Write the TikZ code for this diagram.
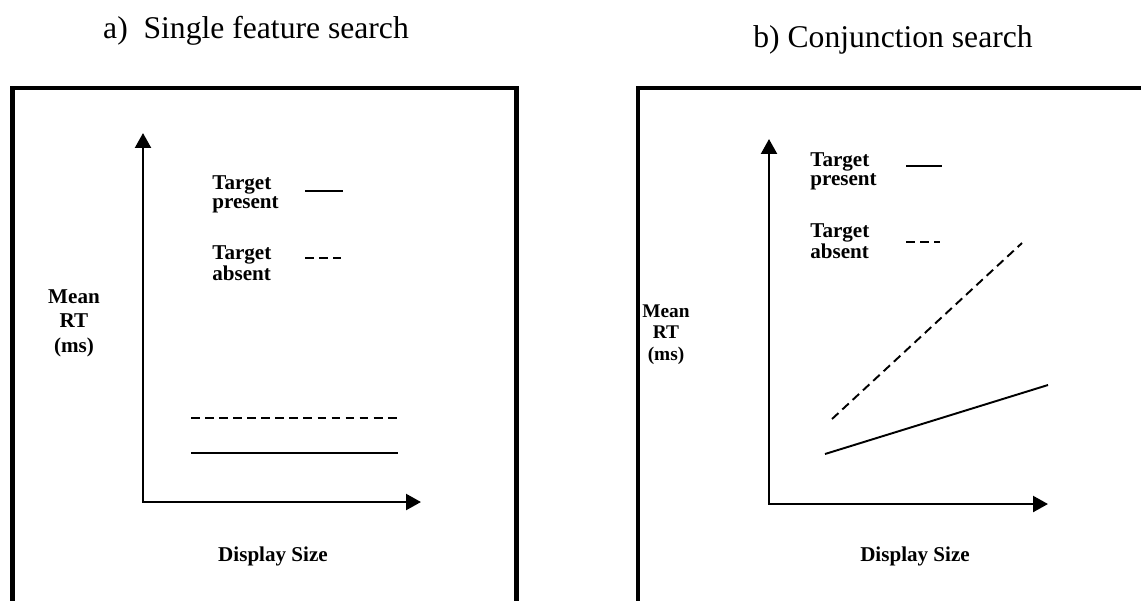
\documentclass[tikz,border=0pt]{standalone}
\usepackage{fontspec}
\setmainfont{Liberation Serif}
\usetikzlibrary{arrows.meta,positioning}

\begin{document}
\begin{tikzpicture}[x=0.02cm, y=-0.02cm,
  frame/.style={line width=2.8pt},
  axis/.style={line width=1.5pt,
    {Triangle[length=8.5pt,width=9pt]}-{Triangle[length=8.5pt,width=9pt]}},
  present/.style={line width=1.1pt},
  absent/.style={line width=1.1pt, dash pattern=on 5pt off 3pt},
  paneltitle/.style={font=\fontsize{18}{21}\selectfont, anchor=base, inner sep=0pt},
  legendtext/.style={font=\bfseries\fontsize{12}{10.8}\selectfont, align=left,
    anchor=north west, inner sep=0pt},
  ylabel/.style={font=\bfseries\fontsize{12}{14}\selectfont, align=center,
    anchor=north, inner sep=0pt},
  xlabel/.style={font=\bfseries\fontsize{12}{14}\selectfont, anchor=base, inner sep=0pt}]
% picture is 1141 x 600 px, one unit = one pixel
\clip (0,0) rectangle (1141,600);

% ---------------- a) single feature search ----------------
\node[paneltitle] (titleA) at (256,38) {a)\ \ Single feature search};
\draw[frame] (12.5,88) rectangle (516.5,620);

\coordinate (originA) at (143,502);
\coordinate (ytipA) at (143,133);
\coordinate (xtipA) at (421,502);
\draw[axis] (ytipA) -- (originA) -- (xtipA);

\node[ylabel] (meanA) at (74,289) {Mean\\RT\\(ms)};
\node[xlabel] (sizeA) at (273,561) {Display Size};

% legend
\node[legendtext] (presentA) at (212,175) {Target\\present};
\node[legendtext] (absentA) at (212,245) {Target\\absent};
\coordinate (keyPa) at (305,191);
\coordinate (keyPb) at (343,191);
\coordinate (keyAa) at (305,258);
\coordinate (keyAb) at (341,258);
\draw[present] (keyPa) -- (keyPb);
\draw[absent] (keyAa) -- (keyAb);

% flat search slopes
\coordinate (absA1) at (191,418);
\coordinate (absA2) at (397,418);
\coordinate (preA1) at (191,453);
\coordinate (preA2) at (398,453);
\draw[absent] (absA1) -- (absA2);
\draw[present] (preA1) -- (preA2);

% ---------------- b) conjunction search ----------------
\node[paneltitle] (titleB) at (893,47) {b) Conjunction search};
\draw[frame] (638,88) rectangle (1143,620);

\coordinate (originB) at (769,504);
\coordinate (ytipB) at (769,139);
\coordinate (xtipB) at (1048,504);
\draw[axis] (ytipB) -- (originB) -- (xtipB);

\node[ylabel, font=\bfseries\fontsize{11}{12.5}\selectfont] (meanB) at (666,304) {Mean\\RT\\(ms)};
\node[xlabel] (sizeB) at (915,561) {Display Size};

% legend
\node[legendtext] (presentB) at (810,152) {Target\\present};
\node[legendtext] (absentB) at (810,223) {Target\\absent};
\coordinate (keyPc) at (906,166);
\coordinate (keyPd) at (942,166);
\coordinate (keyAc) at (906,242);
\coordinate (keyAd) at (940,242);
\draw[present] (keyPc) -- (keyPd);
\draw[absent] (keyAc) -- (keyAd);

% rising search slopes
\coordinate (absB1) at (832,419);
\coordinate (absB2) at (1022,243);
\coordinate (preB1) at (825,454);
\coordinate (preB2) at (1048,385);
\draw[absent] (absB1) -- (absB2);
\draw[present] (preB1) -- (preB2);
\end{tikzpicture}
\end{document}
